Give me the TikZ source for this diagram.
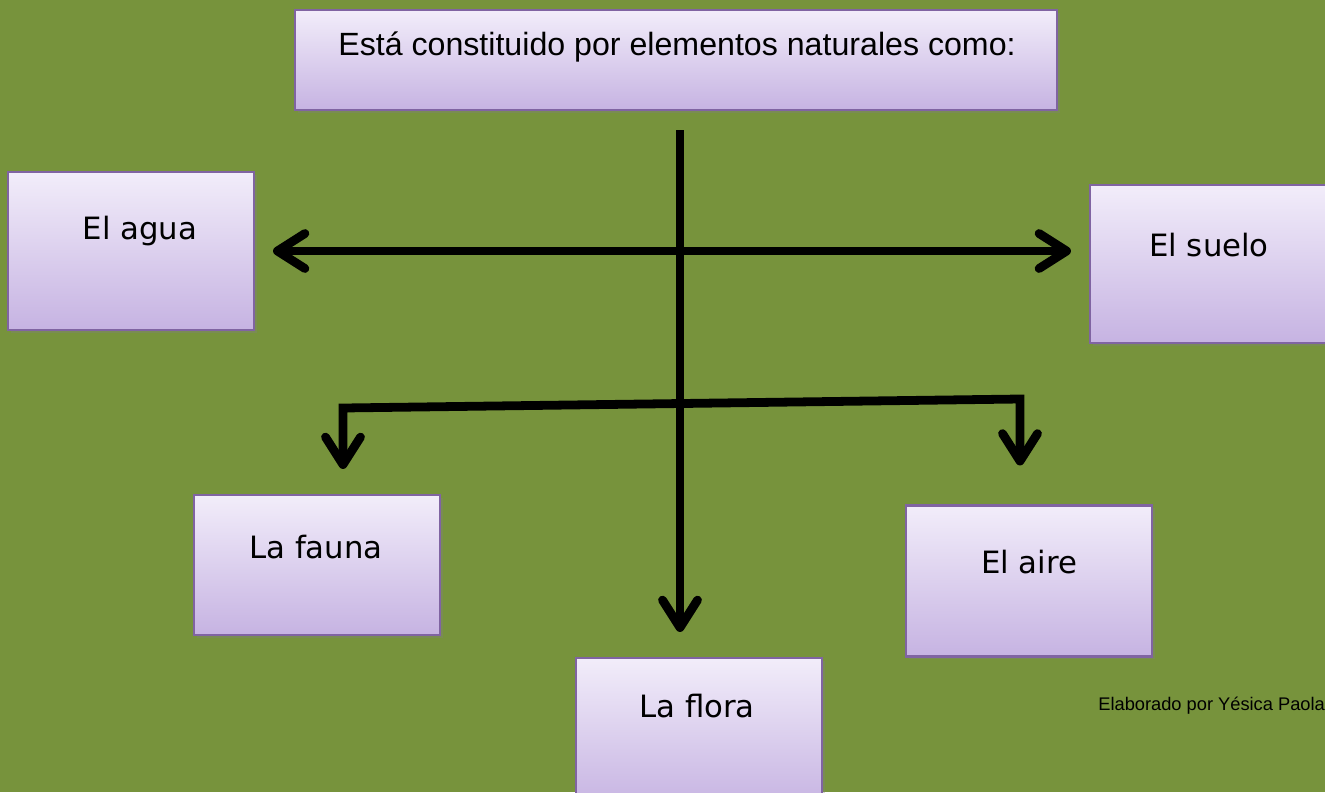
\documentclass[tikz,border=0pt]{standalone}
\usepackage{fontspec}
\setmainfont{DejaVu Sans}
\newfontfamily\arial{Liberation Sans}
\usetikzlibrary{arrows.meta,shadows}

\definecolor{fondo}{HTML}{77933C}
\definecolor{lila}{HTML}{8064A2}
\definecolor{lilaclaro}{HTML}{F2EDFA}
\definecolor{lilaoscuro}{HTML}{C6B3E2}

\begin{document}
\begin{tikzpicture}[x=0.02cm,y=-0.02cm]
\useasboundingbox (0,0) rectangle (1325,792);
\fill[fondo] (0,0) rectangle (1325,792);

\begin{scope}[every node/.style={rectangle,draw=lila,line width=1.2pt,top color=lilaclaro,bottom color=lilaoscuro,
  minimum width=4.92cm,drop shadow={opacity=0.35,shadow xshift=1.5pt,shadow yshift=-1.5pt}}]
\node[minimum width=15.24cm,minimum height=2cm] (tit) at (676,60) {};
\node[minimum height=3.16cm] (agua) at (131,251) {};
\node[minimum height=3.16cm] (suelo) at (1213,264) {};
\node[minimum height=2.8cm] (fauna) at (317,565) {};
\node[minimum height=3.02cm] (aire) at (1029,581) {};
\node[minimum height=3.0cm] (flora) at (699,733) {};
\end{scope}

\begin{scope}[every node/.style={font=\fontsize{17.5}{20}\selectfont}]
\node[font=\arial\fontsize{18.3}{21}\selectfont] (tit-t) at (677,47) {Está constituido por elementos naturales como:};
\node (agua-t) at (140,231) {El agua};
\node (suelo-t) at (1209,245) {El suelo};
\node (fauna-t) at (316,547) {La fauna};
\node (aire-t) at (1029,562) {El aire};
\node (flora-t) at (697,706) {La flora};
\end{scope}
\node[anchor=west,inner sep=0pt,font=\arial\fontsize{10.4}{12}\selectfont] (firma) at (1098,706) {Elaborado por Yésica Paola};

\coordinate (eje) at (680,110);
\coordinate (codo1) at (343,408);
\coordinate (codo2) at (1020,399);

\begin{scope}[line width=5pt,{Straight Barb[length=0.55cm,width=0.7cm,round]}-{Straight Barb[length=0.55cm,width=0.7cm,round]}]
\draw[-{Straight Barb[length=0.55cm,width=0.7cm,round]},shorten <=0.4cm,shorten >=0.5cm] (eje) -- (eje |- flora.north);
\draw[shorten <=0.36cm,shorten >=0.36cm] (agua.east) -- (agua.east -| suelo.west);
\draw[shorten <=0.5cm,shorten >=0.78cm] (codo1 |- fauna.north) -- (codo1) -- (codo2) -- (codo2 |- aire.north);
\end{scope}
\end{tikzpicture}
\end{document}
